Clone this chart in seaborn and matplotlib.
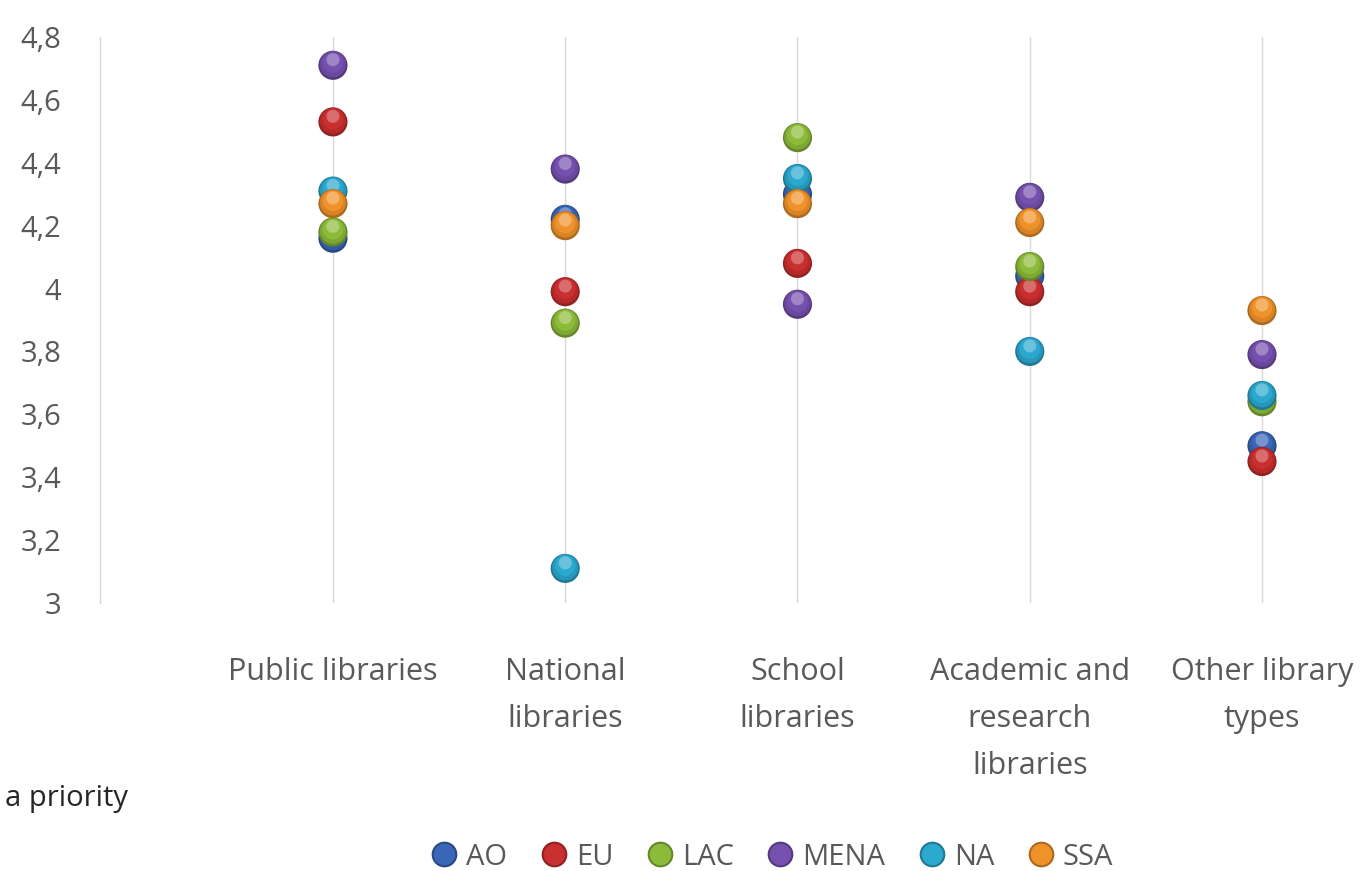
import numpy as np
import pandas as pd
import matplotlib
matplotlib.use("Agg")
import matplotlib.pyplot as plt
import matplotlib.colors as mcolors
from matplotlib.transforms import ScaledTranslation
from matplotlib.lines import Line2D
import seaborn as sns

categories = ["Public libraries", "National\nlibraries", "School\nlibraries",
              "Academic and\nresearch\nlibraries", "Other library\ntypes"]
regions = ["AO", "EU", "LAC", "MENA", "NA", "SSA"]
AO = [4.16, 4.22, 4.30, 4.04, 3.50]
EU = [4.53, 3.99, 4.08, 3.99, 3.45]
LAC = [4.18, 3.89, 4.48, 4.07, 3.64]
MENA = [4.71, 4.38, 3.95, 4.29, 3.79]
NA_ = [4.31, 3.11, 4.35, 3.80, 3.66]
SSA = [4.27, 4.20, 4.27, 4.21, 3.93]
yticks = [3.0, 3.2, 3.4, 3.6, 3.8, 4.0, 4.2, 4.4, 4.6, 4.8]
ytick_labels = ["3", "3,2", "3,4", "3,6", "3,8", "4", "4,2", "4,4", "4,6", "4,8"]
colors = ["#3A66B8", "#C92F2E", "#8CBB3A", "#7650AE", "#2BA8CE", "#F0922A"]

series = [AO, EU, LAC, MENA, NA_, SSA]
df = pd.DataFrame({
    "category": np.tile(categories, len(regions)),
    "region": np.repeat(regions, len(categories)),
    "value": np.concatenate(series),
})

sns.set_theme(style="white")
font = "Open Sans"
plt.rcParams["font.family"] = [font, "DejaVu Sans"]

W, H = 1370, 871
fig = plt.figure(figsize=(W / 100, H / 100), dpi=100)
ax = fig.add_axes([100 / W, 1 - 603 / H, (1370 - 100) / W, (603 - 37) / H])


def shade(c, f):
    r = np.array(mcolors.to_rgb(c))
    return tuple(np.clip(r * f, 0, 1))


def tint(c, f):
    r = np.array(mcolors.to_rgb(c))
    return tuple(r + (1 - r) * f)


size = 440
for i, reg in enumerate(regions):
    sub = df[df["region"] == reg]
    c = colors[i]
    z = 3 + i * 0.1
    sns.scatterplot(data=sub, x="category", y="value", ax=ax, s=size,
                    color=shade(c, 0.72), edgecolor="none", legend=False, zorder=z)
    sns.scatterplot(data=sub, x="category", y="value", ax=ax, s=size * 0.8,
                    color=shade(c, 0.9), edgecolor="none", legend=False, zorder=z + 0.01)
    ax.collections[-1].set_offset_transform(
        ax.transData + ScaledTranslation(0, 0.8 / 72, fig.dpi_scale_trans))
    sns.scatterplot(data=sub, x="category", y="value", ax=ax, s=size * 0.5,
                    color=c, edgecolor="none", legend=False, zorder=z + 0.02)
    ax.collections[-1].set_offset_transform(
        ax.transData + ScaledTranslation(0, 2 / 72, fig.dpi_scale_trans))
    sns.scatterplot(data=sub, x="category", y="value", ax=ax, s=size * 0.2,
                    color=tint(c, 0.3), edgecolor="none", legend=False, zorder=z + 0.03)
    ax.collections[-1].set_offset_transform(
        ax.transData + ScaledTranslation(0, 4 / 72, fig.dpi_scale_trans))

ax.set_xlim(-1.003, (1370 - 333) / 232.25)
ax.set_ylim(3.0, 4.8)
ax.set_yticks(yticks)
ax.set_yticklabels(ytick_labels)
ax.set_xticks(range(len(categories)))
ax.set_xticklabels(categories, linespacing=1.74)
ax.set_xlabel("")
ax.set_ylabel("")
for sp in ["top", "right", "bottom"]:
    ax.spines[sp].set_visible(False)
ax.spines["left"].set_color("#D9D9D9")
ax.spines["left"].set_linewidth(1.0)
ax.grid(axis="x", color="#D9D9D9", linewidth=1.0)
ax.grid(axis="y", visible=False)
ax.set_axisbelow(True)
ax.tick_params(axis="y", length=0, pad=28, labelsize=21, labelcolor="#595959")
ax.tick_params(axis="x", length=0, pad=39, labelsize=22, labelcolor="#595959")
for lab in ax.get_xticklabels():
    lab.set_verticalalignment("top")
    lab.set_multialignment("center")

fig.text(5 / W, 1 - 798 / H, "a priority", fontsize=21, color="#262626",
         ha="left", va="center")

handles = [Line2D([0], [0], marker="o", linestyle="none", markersize=17,
                  markerfacecolor=c, markeredgecolor=shade(c, 0.72), markeredgewidth=1.5)
           for c in colors]
fig.legend(handles, regions, loc="center", bbox_to_anchor=(770 / W, 1 - 857 / H),
           ncol=6, frameon=False, fontsize=21, handletextpad=0.15,
           columnspacing=1.0, handlelength=1.2, labelcolor="#595959", borderaxespad=0)

fig.savefig("out.png", dpi=100)
